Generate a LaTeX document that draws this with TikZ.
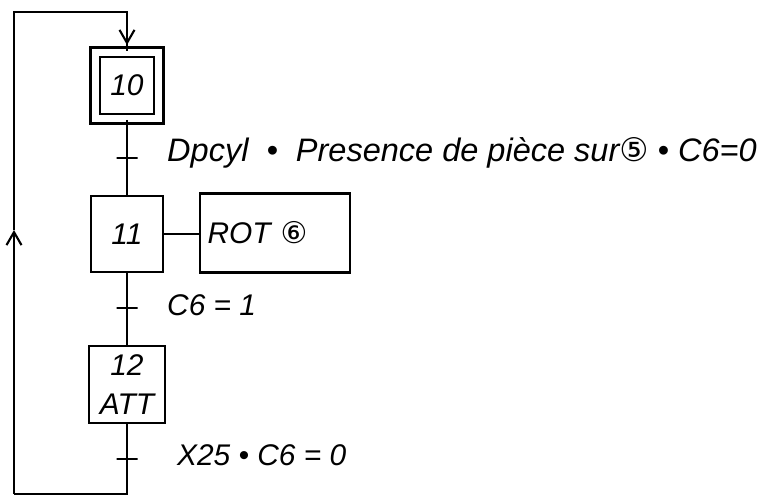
\documentclass[tikz,border=0pt]{standalone}
\usepackage{fontspec}
\setmainfont{Liberation Sans}
\newfontfamily\cercle{DejaVu Sans}
\usetikzlibrary{arrows.meta}
\tikzset{etape/.style={draw,line width=1.2pt,minimum width=1.44cm,minimum height=1.52cm,inner sep=1pt,align=center},
action/.style={draw,line width=1.2pt,minimum height=1.58cm,text width=2.7cm,inner sep=0.15cm,align=left},
recept/.style={draw,line width=1.2pt,minimum width=0.42cm,minimum height=0pt,inner sep=0pt},
liaison/.style={line width=1.2pt},
fleche/.style={liaison,-{Straight Barb[length=0.26cm,width=0.3cm,line width=1.2pt]}}}
\begin{document}
\begin{tikzpicture}[font=\fontsize{17}{22}\selectfont\itshape]
\useasboundingbox (0,0) rectangle (15.26,-9.96);
\node[etape,double,double distance=4.2pt,minimum width=1.27cm,minimum height=1.33cm] (e10) at (2.54,-1.71) {10};
\node[recept] (t1) at (2.54,-3.16) {};
\node[anchor=west,font=\fontsize{18.5}{22}\selectfont\itshape] (c1) at (3.22,-3.06) {Dpcyl \ \textbullet\ \ Presence de pièce sur{\cercle ⑤} \textbullet\ C6=0};
\node[etape] (e11) at (2.54,-4.68) {11};
\node[action] (rot) at (5.5,-4.66) {ROT {\cercle ⑥}};
\node[recept] (t2) at (2.54,-6.16) {};
\node[anchor=west] (c2) at (3.22,-6.1) {C6 = 1};
\node[etape,minimum width=1.52cm,minimum height=1.54cm] (e12) at (2.54,-7.69) {12\\ATT};
\node[recept] (t3) at (2.54,-9.18) {};
\node[anchor=west] (c3) at (3.42,-9.1) {X25 \textbullet\ C6 = 0};
\coordinate (bas) at (2.54,-9.88);
\coordinate (bg) at (0.28,-9.88);
\coordinate (mg) at (0.28,-4.6);
\coordinate (hg) at (0.28,-0.24);
\coordinate (hd) at (2.54,-0.24);
\coordinate (fl) at (2.54,-0.9);
\draw[liaison] (e10) -- (t1) -- (e11) -- (t2) -- (e12) -- (t3) -- (bas) -- (bg);
\draw[liaison] (e11.east) -- (e11.east -| rot.west);
\draw[fleche] (bg) -- (mg);
\draw[liaison] (mg) -- (hg) -- (hd) -- (e10);
\draw[fleche] (hd) -- (fl);
\end{tikzpicture}
\end{document}
